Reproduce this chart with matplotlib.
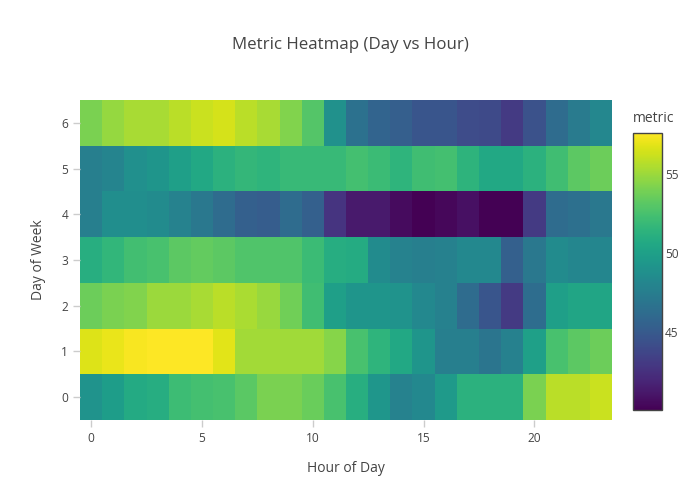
import matplotlib.pyplot as plt
import numpy as np

hours = list(range(24))
days = list(range(7))

# metric value per (day, hour)
day0 = [49.1, 49.8, 50.7, 51.0, 52.1, 52.4, 52.5, 53.1, 54.1, 54.1, 53.6, 52.5,
        51.1, 49.3, 47.8, 48.3, 49.6, 51.3, 51.3, 51.3, 54.1, 55.8, 55.8, 56.2]
day1 = [56.7, 57.0, 57.4, 57.6, 57.6, 57.6, 56.8, 55.2, 55.2, 55.1, 55.1, 54.4,
        52.5, 51.5, 50.6, 49.2, 47.6, 47.6, 46.9, 47.7, 50.0, 52.5, 53.2, 53.7]
day2 = [53.7, 54.1, 54.3, 55.0, 55.0, 55.3, 55.8, 55.4, 54.9, 53.8, 52.2, 49.9,
        49.2, 49.2, 49.1, 48.3, 47.7, 46.2, 44.7, 43.1, 46.3, 49.9, 50.4, 50.4]
day3 = [51.1, 51.6, 52.3, 52.5, 53.2, 53.4, 53.2, 52.8, 52.8, 52.8, 52.0, 51.0,
        50.8, 48.5, 47.8, 47.6, 47.7, 48.3, 48.3, 45.4, 47.1, 48.5, 48.1, 48.1]
day4 = [47.6, 48.7, 48.7, 48.5, 47.8, 47.1, 46.2, 45.4, 45.2, 46.2, 45.4, 42.7,
        41.3, 41.3, 40.6, 40.1, 40.4, 40.8, 40.1, 40.1, 43.1, 46.2, 46.5, 47.1]
day5 = [47.6, 48.0, 48.8, 49.2, 49.9, 50.6, 51.3, 51.7, 51.5, 51.9, 51.9, 51.9,
        52.4, 52.0, 51.5, 52.2, 52.4, 51.4, 50.6, 50.6, 51.3, 52.2, 53.2, 53.7]
day6 = [54.1, 54.8, 55.3, 55.3, 55.8, 56.2, 56.5, 55.8, 55.3, 54.3, 52.9, 48.9,
        46.6, 45.7, 45.3, 44.7, 44.7, 44.1, 44.0, 43.1, 44.5, 46.2, 47.3, 48.2]

z = np.array([day0, day1, day2, day3, day4, day5, day6])

plt.rcParams['font.family'] = ['Open Sans', 'DejaVu Sans']
txt = '#444444'

fig = plt.figure(figsize=(7, 5), dpi=100)
ax = fig.add_axes([80 / 700, 1 - 420 / 500, 532 / 700, 320 / 500])
cax = fig.add_axes([633 / 700, 1 - 410 / 500, 29 / 700, 277 / 500])

im = ax.pcolormesh(np.arange(25) - 0.5, np.arange(8) - 0.5, z, cmap='viridis',
                   vmin=z.min(), vmax=z.max())
ax.set_xlim(-0.5, 23.5)
ax.set_ylim(-0.5, 6.5)
ax.set_xticks([0, 5, 10, 15, 20])
ax.set_yticks(days)
for s in ax.spines.values():
    s.set_visible(False)
ax.tick_params(colors='#cccccc', labelcolor=txt, labelsize=8.6, length=5, width=1)
ax.set_xlabel('Hour of Day', color=txt, fontsize=10, labelpad=12)
ax.set_ylabel('Day of Week', color=txt, fontsize=10, labelpad=11)

fig.text(350 / 700, 1 - 45 / 500, 'Metric Heatmap (Day vs Hour)', ha='center', va='center',
         color=txt, fontsize=12.2)

cb = fig.colorbar(im, cax=cax)
cb.set_ticks([45, 50, 55])
cb.outline.set_edgecolor(txt)
cb.outline.set_linewidth(1)
cax.tick_params(length=0, labelcolor=txt, labelsize=8.6, pad=2)
fig.text(633 / 700, 1 - 118 / 500, 'metric', ha='left', va='center', color=txt, fontsize=10)

fig.savefig('out.png', dpi=100)
